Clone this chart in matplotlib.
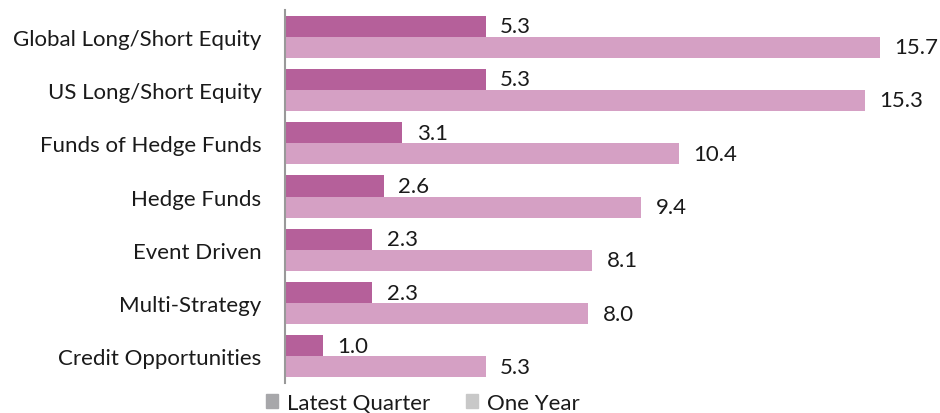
import matplotlib
matplotlib.use("Agg")
import matplotlib.pyplot as plt
import matplotlib.patches as mpatches
import numpy as np

plt.rcParams["font.family"] = ["Lato", "DejaVu Sans"]

categories = [
    "Global Long/Short Equity",
    "US Long/Short Equity",
    "Funds of Hedge Funds",
    "Hedge Funds",
    "Event Driven",
    "Multi-Strategy",
    "Credit Opportunities",
]
latest_quarter = [5.3, 5.3, 3.1, 2.6, 2.3, 2.3, 1.0]
one_year = [15.7, 15.3, 10.4, 9.4, 8.1, 8.0, 5.3]

DARK = "#B5609A"
LIGHT = "#D5A0C4"
TEXT = "#1a1a1a"
FS = 16

fig = plt.figure(figsize=(9.4, 4.14), dpi=100)
ax = fig.add_axes([285 / 940, 1 - 384 / 414, 655 / 940, 373 / 414])

y = np.arange(len(categories))
h = 0.395
ax.barh(y - h / 2, latest_quarter, height=h, color=DARK)
ax.barh(y + h / 2, one_year, height=h, color=LIGHT)

for yi, v in zip(y, latest_quarter):
    ax.text(v + 0.38, yi - h / 2, f"{v:.1f}", va="center", ha="left", fontsize=FS, color=TEXT)
for yi, v in zip(y, one_year):
    ax.text(v + 0.38, yi + h / 2, f"{v:.1f}", va="center", ha="left", fontsize=FS, color=TEXT)

ax.set_xlim(0, 655 / 37.9)
ax.set_ylim(len(categories) - 0.5, -0.5)
ax.set_yticks(y)
ax.set_yticklabels(categories, fontsize=FS, color=TEXT)
ax.tick_params(axis="y", length=0, pad=17)
ax.set_xticks([])
for s in ["top", "right", "bottom"]:
    ax.spines[s].set_visible(False)
ax.spines["left"].set_color("#999999")
ax.spines["left"].set_linewidth(1.5)

handles = [
    mpatches.Patch(color="#A7A7AA", label="Latest Quarter"),
    mpatches.Patch(color="#C8C8C8", label="One Year"),
]
fig.legend(handles=handles, loc="center", bbox_to_anchor=(423 / 940, 1 - 404 / 414),
           ncol=2, frameon=False, fontsize=FS, handlelength=0.55, handleheight=0.55,
           handletextpad=0.4, columnspacing=1.6, labelcolor=TEXT,
           borderpad=0, borderaxespad=0)

fig.savefig("out.png", dpi=100)
